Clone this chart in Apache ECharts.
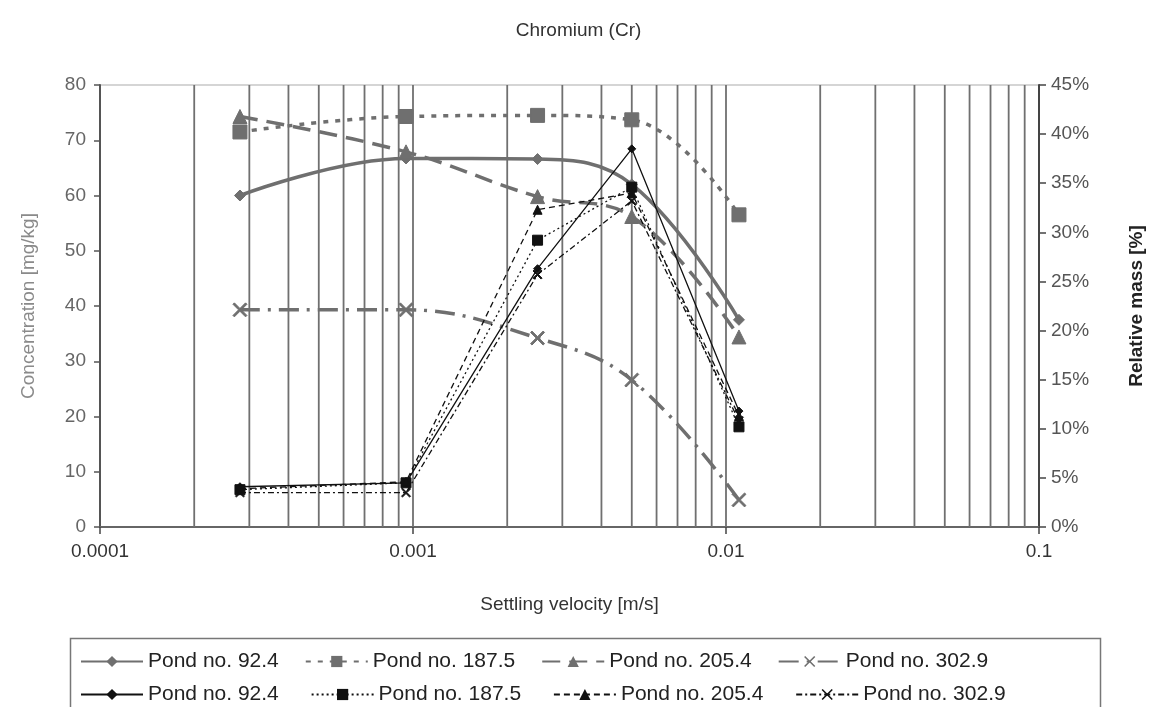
<!DOCTYPE html>
<html>
<head>
<meta charset="utf-8">
<script src="https://cdn.jsdelivr.net/npm/echarts@6/dist/echarts.min.js"></script>
<style>
  html, body { margin: 0; padding: 0; background: #fff; }
  #chart { width: 1157px; height: 707px; }
</style>
</head>
<body>
<div id="chart"></div>
<script>
// settling velocity [m/s]
var velocity = [0.00028, 0.00095, 0.0025, 0.005, 0.011]
// concentration [mg/kg] (left axis)
var conc924 = [60, 66.7, 66.6, 62, 37.5]
var conc1875 = [71.5, 74.3, 74.5, 73.7, 56.5]
var conc2054 = [74.3, 67.9, 59.8, 56.2, 34.4]
var conc3029 = [39.3, 39.3, 34.2, 26.6, 4.9]
// relative mass [%] (right axis)
var mass924 = [4.1, 4.5, 26.3, 38.5, 11.8]
var mass1875 = [3.8, 4.5, 29.2, 34.6, 10.2]
var mass2054 = [3.9, 4.6, 32.3, 34.0, 11.3]
var mass3029 = [3.5, 3.5, 25.7, 33.2, 10.8]
// vertical grid lines
var gridVel = [0.0002, 0.0003, 0.0004, 0.0005, 0.0006, 0.0007, 0.0008, 0.0009, 0.001,
  0.002, 0.003, 0.004, 0.005, 0.006, 0.007, 0.008, 0.009, 0.01,
  0.02, 0.03, 0.04, 0.05, 0.06, 0.07, 0.08, 0.09]
var namesTop = ['Pond no. 92.4', 'Pond no. 187.5', 'Pond no. 205.4', 'Pond no. 302.9']
var namesBottom = ['Pond no. 92.4 ', 'Pond no. 187.5 ', 'Pond no. 205.4 ', 'Pond no. 302.9 ']

var GRAY = '#6f6f6f'
var BLACK = '#111111'
var X_SYMBOL = 'path://M0,1L1,0L5,4L9,0L10,1L6,5L10,9L9,10L5,6L1,10L0,9L4,5Z'
var FONT = 'Liberation Sans'

function pairs(ys) {
  return velocity.map(function (x, i) { return [x, ys[i]] })
}

// grid lines as gapped segments running over the full left axis range
var gridData = []
gridVel.forEach(function (v) {
  gridData.push([v, 0], [v, 80], [v, '-'])
})

function graySeries(name, ys, symbol, size, dash) {
  return {
    name: name,
    type: 'line',
    yAxisIndex: 0,
    smooth: 0.4,
    symbol: symbol,
    symbolSize: size,
    showAllSymbol: true,
    lineStyle: { color: GRAY, width: 3.5, type: dash },
    itemStyle: { color: GRAY, borderColor: GRAY },
    data: pairs(ys),
    z: 3
  }
}

function blackSeries(name, ys, symbol, size, dash) {
  return {
    name: name,
    type: 'line',
    yAxisIndex: 1,
    symbol: symbol,
    symbolSize: size,
    lineStyle: { color: BLACK, width: 1.3, type: dash },
    itemStyle: { color: BLACK, borderColor: BLACK },
    data: pairs(ys),
    z: 4
  }
}

var legendText = { fontSize: 21, color: '#222', fontFamily: FONT }

var option = {
  animation: false,
  textStyle: { fontFamily: FONT },
  title: {
    text: 'Chromium (Cr)',
    left: 'center',
    top: 16,
    textStyle: { fontSize: 19, fontWeight: 'normal', color: '#333', fontFamily: FONT }
  },
  grid: {
    left: 100,
    right: 118,
    top: 85,
    bottom: 180,
    show: true,
    borderColor: '#c8c8c8',
    borderWidth: 1.5
  },
  legend: [
    {
      left: 75, top: 646, itemGap: 26, itemWidth: 62, itemHeight: 14,
      textStyle: legendText, data: namesTop
    },
    {
      left: 75, top: 679, itemGap: 26, itemWidth: 62, itemHeight: 14,
      textStyle: legendText, data: namesBottom
    }
  ],
  graphic: [{
    type: 'rect',
    left: 68, top: 636,
    shape: { width: 1030, height: 80 },
    style: { fill: 'none', stroke: '#777', lineWidth: 1.5 }
  }],
  xAxis: {
    type: 'log',
    min: 0.0001,
    max: 0.1,
    logBase: 10,
    name: 'Settling velocity [m/s]',
    nameLocation: 'middle',
    nameGap: 68,
    nameTextStyle: { fontSize: 19, color: '#333' },
    axisLine: { lineStyle: { color: '#666', width: 2 } },
    axisTick: { show: true, length: 7, lineStyle: { color: '#444', width: 1.5 } },
    axisLabel: {
      fontSize: 19, color: '#333', margin: 15,
      formatter: function (v) { return String(Number(v.toPrecision(3))) }
    },
    splitLine: { show: false }
  },
  yAxis: [
    {
      type: 'value',
      min: 0,
      max: 80,
      interval: 10,
      name: 'Concentration [mg/kg]',
      nameLocation: 'middle',
      nameGap: 62,
      nameTextStyle: { fontSize: 19, color: '#8a8a8a' },
      axisLine: { show: true, lineStyle: { color: '#555', width: 2 } },
      axisTick: { show: true, length: 6, lineStyle: { color: '#555', width: 1.5 } },
      axisLabel: { fontSize: 19, color: '#666', margin: 14 },
      splitLine: { show: false }
    },
    {
      type: 'value',
      min: 0,
      max: 45,
      interval: 5,
      name: 'Relative mass [%]',
      nameLocation: 'middle',
      nameGap: 88,
      nameTextStyle: { fontSize: 19, color: '#222', fontWeight: 'bold' },
      axisLine: { show: true, lineStyle: { color: '#444', width: 2 } },
      axisTick: { show: true, length: 7, lineStyle: { color: '#444', width: 1.5 } },
      axisLabel: { fontSize: 19, color: '#555', margin: 12, formatter: '{value}%' },
      splitLine: { show: false }
    }
  ],
  series: [
    {
      name: 'grid',
      type: 'line',
      yAxisIndex: 0,
      data: gridData,
      silent: true,
      symbol: 'none',
      connectNulls: false,
      lineStyle: { color: '#707070', width: 1.8, type: 'solid' },
      z: 1
    },
    graySeries(namesTop[0], conc924, 'diamond', 11, 'solid'),
    graySeries(namesTop[1], conc1875, 'rect', 14, [5, 7]),
    graySeries(namesTop[2], conc2054, 'triangle', 14, [18, 9]),
    graySeries(namesTop[3], conc3029, X_SYMBOL, 14, [20, 8, 3, 8]),
    blackSeries(namesBottom[0], mass924, 'diamond', 8, 'solid'),
    blackSeries(namesBottom[1], mass1875, 'rect', 10, [2, 3]),
    blackSeries(namesBottom[2], mass2054, 'triangle', 9, [6, 4]),
    blackSeries(namesBottom[3], mass3029, X_SYMBOL, 9, [6, 3, 2, 3])
  ]
}

var myChart = echarts.init(document.getElementById('chart'))
myChart.setOption(option)
</script>
</body>
</html>
